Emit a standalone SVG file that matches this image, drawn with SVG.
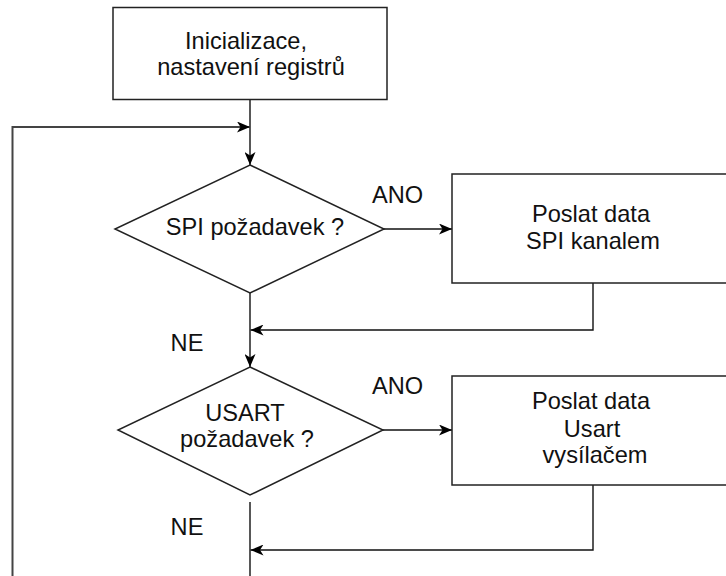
<svg xmlns="http://www.w3.org/2000/svg" width="726" height="576" viewBox="0 0 726 576">
<style>
.s{fill:#fff;stroke:#222;stroke-width:1.5}
.c{fill:none;stroke:#111;stroke-width:1.4}
.t{font-family:"Liberation Sans",Arial,sans-serif;font-size:23.6px;fill:#111;text-anchor:middle}
</style>
<defs>
<marker id="a" viewBox="0 0 13 11" refX="13" refY="5.5" markerWidth="13" markerHeight="11" markerUnits="userSpaceOnUse" orient="auto">
<path d="M0,0 L13,5.5 L0,11 L3.5,5.5 Z" fill="#000"/>
</marker>
</defs>
<rect width="726" height="576" fill="#fff"/>
<g id="connectors">
<line class="c" x1="250" y1="99" x2="250" y2="165" marker-end="url(#a)"/>
<polyline class="c" points="12.5,576 12.5,127 250,127" marker-end="url(#a)" style="stroke:#444;stroke-width:2"/>
<line class="c" x1="383" y1="229" x2="452" y2="229" marker-end="url(#a)"/>
<line class="c" x1="250" y1="293" x2="250" y2="367" marker-end="url(#a)"/>
<polyline class="c" points="593,283 593,330 250.5,330" marker-end="url(#a)"/>
<line class="c" x1="383" y1="430" x2="452" y2="430" marker-end="url(#a)"/>
<line class="c" x1="250" y1="502" x2="250" y2="576"/>
<polyline class="c" points="593,485 593,550 250.5,550" marker-end="url(#a)"/>
<text class="t" x="397.5" y="203">ANO</text>
<text class="t" x="187" y="351">NE</text>
<text class="t" x="397.5" y="394">ANO</text>
<text class="t" x="187" y="535">NE</text>
</g>
<g id="init">
<rect class="s" x="113" y="7.5" width="274" height="92"/>
<text class="t" x="246" y="49">Inicializace,</text>
<text class="t" x="251" y="75">nastavení registrů</text>
</g>
<g id="spi-dec">
<polygon class="s" points="250,165 384,229 250,293 115,229"/>
<text class="t" x="255" y="235">SPI požadavek ?</text>
</g>
<g id="spi-send">
<rect class="s" x="452" y="174" width="290" height="109"/>
<text class="t" x="591" y="222">Poslat data</text>
<text class="t" x="593" y="249">SPI kanalem</text>
</g>
<g id="usart-dec">
<polygon class="s" points="250,367 383,430 250,495 118,430"/>
<text class="t" x="245" y="421">USART</text>
<text class="t" x="247" y="447">požadavek ?</text>
</g>
<g id="usart-send">
<rect class="s" x="452" y="376" width="290" height="109"/>
<text class="t" x="591" y="409">Poslat data</text>
<text class="t" x="592" y="437">Usart</text>
<text class="t" x="595" y="463">vysílačem</text>
</g>
</svg>
